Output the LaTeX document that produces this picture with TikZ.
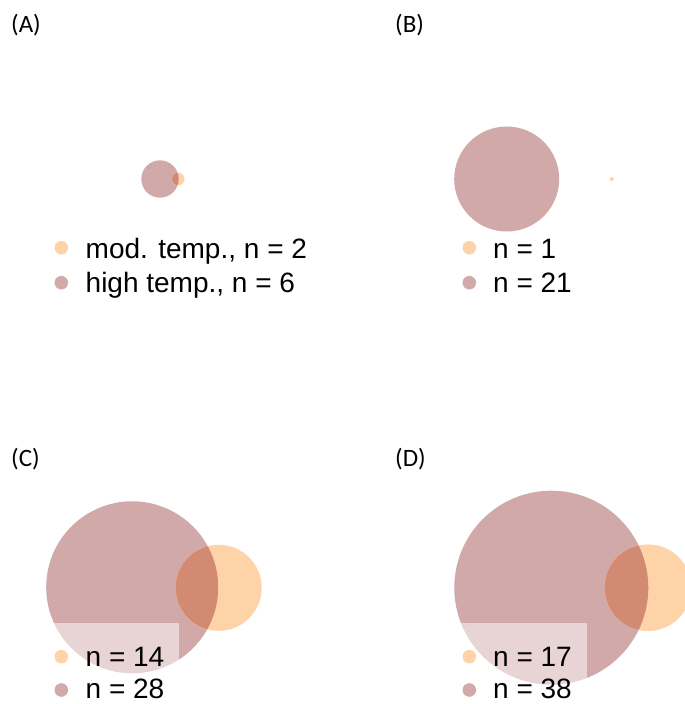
\documentclass[tikz,border=0pt]{standalone}
\usepackage{fontspec}
\setmainfont{Liberation Sans}
\newfontfamily\legfont{Liberation Sans}
\newfontfamily\labfont{Carlito}
\definecolor{brn}{HTML}{D2A9A9}
\definecolor{org}{HTML}{FFD3A8}
\definecolor{ovl}{HTML}{D28A73}
\tikzset{
  leg/.style={anchor=base west, inner sep=0pt, font=\legfont\fontsize{28}{32}\selectfont},
  lab/.style={anchor=base west, inner sep=0pt, font=\labfont\fontsize{25}{29}\selectfont},
  dotb/.style={circle, fill=brn, minimum size=13.6pt, inner sep=0pt},
  doto/.style={circle, fill=org, minimum size=13.6pt, inner sep=0pt},
  legbg/.style={fill=white, fill opacity=0.5}
}
\newcommand\vennpair[6]{%
  \fill[brn] (#1,#2) circle[radius=#3pt];
  \fill[org] (#4,#5) circle[radius=#6pt];
  \begin{scope}
    \clip (#1,#2) circle[radius=#3pt];
    \fill[ovl] (#4,#5) circle[radius=#6pt];
  \end{scope}%
}
\begin{document}
\begin{tikzpicture}[x=1pt,y=-1pt]
\useasboundingbox (0,0) rectangle (685,704);
\clip (0,0) rectangle (685,704);
% panel A
\vennpair{160}{179}{18.7}{178.3}{179}{6.3}
\node[lab] (labA) at (11,32) {(A)};
\node[doto] (dA1) at (61.3,247.7) {};
\node[dotb] (dA2) at (61.3,282.7) {};
\node[leg] (tA1) at (85.5,258) {mod. temp., n = 2};
\node[leg] (tA2) at (85.5,292) {high temp., n = 6};
% panel B
\vennpair{506.7}{179}{52.5}{611.7}{179}{2}
\node[lab] (labB) at (395,32) {(B)};
\node[doto] (dB1) at (469.3,247.7) {};
\node[dotb] (dB2) at (469.3,282.7) {};
\node[leg] (tB1) at (493,258) {n = 1};
\node[leg] (tB2) at (493,292) {n = 21};
% panel C
\vennpair{132.2}{587.3}{86}{218.7}{587.8}{43}
\fill[legbg] (40,622.7) rectangle (179,710);
\node[lab] (labC) at (11,466.5) {(C)};
\node[doto] (dC1) at (61.3,656.7) {};
\node[dotb] (dC2) at (61.3,690) {};
\node[leg] (tC1) at (85.5,666.5) {n = 14};
\node[leg] (tC2) at (85.5,698.5) {n = 28};
% panel D
\vennpair{551.3}{587.7}{97}{648}{587.7}{43.3}
\fill[legbg] (450,622.7) rectangle (586.7,710);
\node[lab] (labD) at (395,466.5) {(D)};
\node[doto] (dD1) at (469.3,656.7) {};
\node[dotb] (dD2) at (469.3,690) {};
\node[leg] (tD1) at (493,666.5) {n = 17};
\node[leg] (tD2) at (493,698.5) {n = 38};
\end{tikzpicture}
\end{document}
